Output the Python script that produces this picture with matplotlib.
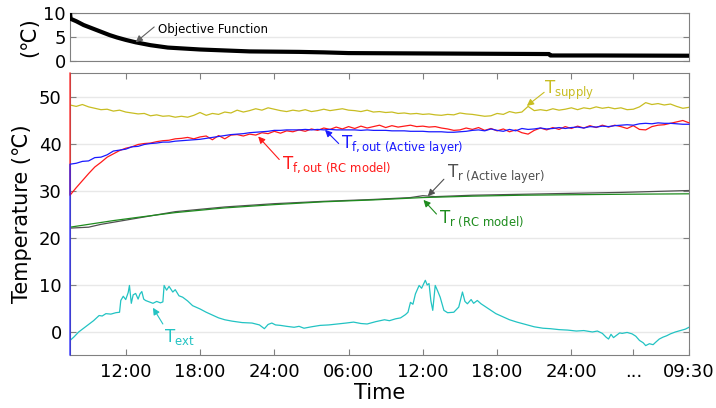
import numpy as np
import matplotlib
matplotlib.use("Agg")
import matplotlib.pyplot as plt

plt.rcParams['font.family'] = ['DejaVu Sans']
plt.rcParams['mathtext.fontset'] = 'dejavusans'

# ---------------- data (time in hours from midnight of day 1) ----------------
obj_t = [7.5, 7.55, 8, 8.6, 9.3, 10, 10.7, 11.3, 12, 12.8, 14, 15.4, 16.7, 18, 20, 22,
         24, 26, 28, 30, 34, 38, 42, 46.2, 46.3, 50, 57.5]
obj_v = [10.0, 8.8, 8.3, 7.5, 6.8, 6.1, 5.4, 4.9, 4.4, 3.9, 3.3, 2.8, 2.6, 2.4, 2.2, 2.0,
         1.95, 1.9, 1.8, 1.65, 1.6, 1.55, 1.5, 1.45, 1.15, 1.15, 1.1]

t_start = 7.5
dt = 0.5

supply = [48.2, 47.9, 48.3, 47.8, 47.5, 47.2, 47.3, 46.9, 47.1, 46.7,   # 7.5 - 12.0
          46.5, 46.3, 46.4, 45.9, 46.1, 45.8, 45.9, 45.6, 45.8, 45.6,   # 12.5 - 17.0
          46.0, 46.6, 46.0, 46.4, 46.2, 46.7, 46.5, 47.1, 46.7, 47.0,   # 17.5 - 22.0
          47.4, 47.1, 47.6, 47.3, 47.0, 46.8, 47.1, 46.9, 47.2, 46.8,   # 22.5 - 27.0
          47.0, 47.3, 47.0, 47.2, 47.4, 47.1, 47.0, 46.8, 47.1, 46.7,   # 27.5 - 32.0
          46.8, 46.6, 46.7, 46.4, 46.5, 46.3, 46.4, 46.2, 46.3, 46.1,   # 32.5 - 37.0
          46.0, 46.2, 46.1, 46.5, 46.3, 46.2, 46.0, 45.8, 45.9, 46.4,   # 37.5 - 42.0
          46.2, 46.8, 46.5, 46.7, 47.9, 47.0, 47.2, 47.0, 47.4, 47.1,   # 42.5 - 47.0
          47.3, 47.6, 47.2, 47.6, 47.4, 47.8, 47.5, 47.7, 47.4, 47.6,   # 47.5 - 52.0
          47.2, 47.3, 47.8, 48.7, 48.3, 48.5, 48.2, 48.4, 47.9, 47.5,   # 52.5 - 57.0
          47.7]                                                         # 57.5

fout_rc = [29.0, 30.6, 32.1, 33.6, 35.0, 36.0, 37.1, 37.8, 38.5, 39.0,
           39.3, 39.8, 40.0, 40.1, 40.4, 40.6, 40.7, 41.0, 41.1, 41.3,
           41.0, 41.4, 41.6, 40.8, 41.7, 41.0, 41.8, 41.9, 41.6, 42.0,
           41.8, 42.3, 42.1, 42.6, 42.2, 42.7, 42.5, 42.9, 42.6, 43.1,
           42.8, 43.3, 43.0, 43.5, 43.1, 43.6, 43.2, 43.7, 43.3, 43.6,
           43.9, 43.4, 43.8, 43.5, 43.7, 43.9, 43.6, 43.7, 43.5, 43.6,
           43.3, 43.1, 42.8, 42.9, 43.3, 43.0, 43.4, 42.8, 43.2, 42.7,
           43.1, 42.5, 42.9, 42.3, 42.0, 42.8, 43.3, 42.9, 43.4, 43.0,
           43.6, 43.2, 43.7, 43.3, 43.8, 43.4, 43.9, 43.5, 43.9, 43.6,
           43.2, 43.8, 43.0, 42.9, 43.6, 43.9, 44.0, 44.3, 44.6, 44.9,
           44.4]
fout_rc_first = 55.0

fout_al = [35.6, 35.8, 36.2, 36.3, 37.0, 37.1, 37.6, 38.4, 38.6, 38.8,
           39.3, 39.4, 39.8, 40.0, 40.1, 40.3, 40.3, 40.5, 40.6, 40.7,
           40.8, 40.9, 41.1, 41.3, 41.5, 41.7, 41.9, 42.0, 42.1, 42.3,
           42.4, 42.5, 42.6, 42.8, 42.8, 42.9, 42.9, 42.9, 43.0, 42.9,
           43.0, 42.9, 43.0, 42.9, 42.9, 42.9, 42.9, 42.8, 42.9, 42.8,
           42.8, 42.8, 42.7, 42.7, 42.7, 42.6, 42.6, 42.6, 42.5, 42.5,
           42.5, 42.4, 42.4, 42.5, 42.6, 42.8, 42.9, 42.7, 43.1, 42.8,
           42.6, 43.0, 42.7, 43.2, 43.0, 43.1, 43.3, 43.1, 43.2, 43.4,
           43.2, 43.4, 43.5, 43.3, 43.6, 43.5, 43.7, 43.6, 43.8, 43.9,
           44.0, 43.9, 44.2, 44.3, 44.2, 44.4, 44.3, 44.3, 44.2, 44.1,
           44.1]
fout_al_first = -5.0

tr_rc_t = [7.5, 9, 11, 13, 16, 20, 24, 28, 32, 36, 40, 44, 48, 52, 57.5]
tr_rc_v = [22.2, 22.8, 23.6, 24.3, 25.3, 26.3, 27.0, 27.6, 28.0, 28.5, 28.8, 29.0, 29.1, 29.2, 29.3]

tr_al_t = [7.5, 9, 10, 12, 14, 16, 20, 24, 28, 32, 35, 36, 37, 40, 44, 48, 52, 57.5]
tr_al_v = [22.0, 22.2, 22.8, 23.7, 24.6, 25.5, 26.5, 27.2, 27.7, 28.1, 28.5, 28.9, 28.7,
           29.0, 29.2, 29.4, 29.6, 30.0]

text_t = [7.5, 7.8, 8.2, 8.6, 9.0, 9.4, 9.85, 10.1, 10.4, 10.8, 11.2, 11.5, 11.6, 11.8, 12.0,
          12.2, 12.3, 12.45, 12.6, 12.8, 13.0, 13.15, 13.3, 13.45, 13.6, 13.9, 14.2, 14.5,
          14.8, 15.0, 15.1, 15.3, 15.5, 15.8, 16.0, 16.3, 16.6, 17.0, 17.4, 18.0, 18.5, 19.0,
          19.5, 20.0, 20.6, 21.4, 22.2, 22.8, 23.2, 23.5, 23.8, 24.1, 24.5, 25.0, 25.6, 26.0,
          26.4, 27.0, 27.7, 28.4, 29.1, 29.8, 30.4, 31.0, 31.5, 32.2, 32.9, 33.3, 33.8, 34.2,
          34.6, 34.8, 35.0, 35.2, 35.4, 35.7, 35.9, 36.2, 36.35, 36.5, 36.65, 36.8, 37.0, 37.2,
          37.4, 37.7, 38.0, 38.5, 38.9, 39.2, 39.4, 39.6, 39.9, 40.1, 40.4, 40.7, 41.1, 41.5,
          41.9, 42.5, 43.0, 43.6, 44.3, 45.0, 45.7, 46.3, 47.0, 47.7, 48.4, 49.0, 49.7, 50.1,
          50.5, 50.8, 51.0, 51.2, 51.4, 51.6, 51.9, 52.1, 52.5, 52.9, 53.2, 53.5, 53.8, 54.0,
          54.3, 54.6, 54.8, 55.1, 55.4, 55.7, 56.0, 56.4, 56.8, 57.2, 57.5]
text_v = [-1.9, -1.2, -0.1, 0.7, 1.5, 2.3, 3.4, 3.3, 3.8, 3.7, 4.0, 4.1, 6.6, 7.5, 6.8,
          8.3, 9.8, 6.0, 7.8, 8.1, 6.9, 8.0, 8.5, 6.9, 6.6, 6.3, 6.0, 6.4,
          6.1, 6.3, 9.8, 8.8, 9.6, 8.4, 8.9, 7.6, 7.3, 6.5, 5.5, 4.8, 4.1, 3.5,
          2.9, 2.5, 2.2, 1.9, 1.8, 1.4, 0.6, 1.5, 1.8, 1.4, 1.3, 1.1, 0.9, 1.1,
          0.7, 1.0, 1.3, 1.4, 1.6, 1.8, 2.0, 1.7, 1.6, 2.1, 2.5, 2.3, 2.7, 2.9,
          3.6, 4.1, 6.2, 5.8, 8.0, 9.8, 9.2, 10.9, 9.9, 10.2, 6.5, 4.5, 9.8, 8.6,
          7.3, 4.5, 4.0, 4.1, 5.2, 8.4, 6.4, 5.9, 6.8, 6.0, 6.6, 5.9, 5.2, 4.5,
          3.8, 3.1, 2.5, 2.0, 1.5, 1.0, 0.7, 0.6, 0.4, 0.3, 0.1, 0.2, -0.1, 0.1,
          -0.4, -1.2, -1.6, -0.6, -1.3, -0.9, -0.3, -0.4, -0.2, -0.5, -1.0, -1.9, -2.4, -3.0,
          -2.6, -2.8, -2.3, -1.6, -1.2, -0.9, -0.5, -0.1, 0.2, 0.5, 0.9]

tick_pos = [12, 18, 24, 30, 36, 42, 48, 53, 57.5]
tick_lab = ['12:00', '18:00', '24:00', '06:00', '12:00', '18:00', '24:00', '...', '09:30']

c_supply = '#c8bd22'
c_rc = '#ff1a1a'
c_al = '#1a1aff'
c_tr_al = '#505050'
c_tr_rc = '#1e8c1e'
c_ext = '#22c3c3'
c_spine = '#808080'

# time grids for the half-hour series
t_half = t_start + dt * np.arange(len(supply))
t_rc = np.concatenate([[t_start], t_start + dt * np.arange(len(fout_rc))])
t_al = np.concatenate([[t_start], t_start + dt * np.arange(len(fout_al))])

fig = plt.figure(figsize=(7.16, 4.08), dpi=100)
ax0 = fig.add_axes([0.0978, 0.8505, 0.8645, 0.1175])
ax = fig.add_axes([0.0978, 0.1299, 0.8645, 0.6911])

# ---------------- top panel: objective function ----------------
ax0.plot(obj_t, obj_v, color='black', lw=3, zorder=3)
ax0.set_xlim(7.5, 57.5)
ax0.set_ylim(0, 10)
ax0.set_yticks([0, 5, 10])
ax0.set_xticks([])
ax0.grid(axis='y', color='#e8e8e8', lw=1)
ax0.set_axisbelow(True)
ax0.tick_params(axis='y', direction='in', right=True, length=4, color=c_spine,
                labelsize=13, pad=3)
ax0.set_ylabel('(℃)', fontsize=15, labelpad=3)
for s in ax0.spines.values():
    s.set_color(c_spine)
ax0.annotate('', xy=(12.8, 3.9), xytext=(14.3, 7.1),
             arrowprops=dict(arrowstyle='-|>', color='#606060', lw=0.8, mutation_scale=10,
                             shrinkA=0, shrinkB=0))
ax0.text(14.6, 6.5, 'Objective Function', fontsize=8.5, ha='left', va='center')

# ---------------- main panel ----------------
ax.plot(t_half, supply, color=c_supply, lw=0.9)
ax.plot(t_rc, [fout_rc_first] + fout_rc, color=c_rc, lw=0.9, zorder=3, clip_on=False)
ax.plot(t_al, [fout_al_first] + fout_al, color=c_al, lw=0.9, zorder=3, clip_on=False)
ax.plot(tr_al_t, tr_al_v, color=c_tr_al, lw=0.9)
ax.plot(tr_rc_t, tr_rc_v, color=c_tr_rc, lw=0.9)
ax.plot(text_t, text_v, color=c_ext, lw=0.9)

ax.set_xlim(7.5, 57.5)
ax.set_ylim(-5, 55)
ax.set_yticks([0, 10, 20, 30, 40, 50])
ax.set_xticks(tick_pos)
ax.set_xticklabels(tick_lab)
ax.grid(axis='y', color='#e8e8e8', lw=1)
ax.set_axisbelow(True)
ax.tick_params(direction='in', top=True, right=True, length=4, color=c_spine,
               labelsize=13)
ax.tick_params(axis='x', pad=6)
ax.tick_params(axis='y', pad=6)
for s in ax.spines.values():
    s.set_color(c_spine)
ax.set_ylabel('Temperature (℃)', fontsize=15, labelpad=5)
ax.set_xlabel('Time', fontsize=15, labelpad=1)

arrow = dict(arrowstyle='-|>', lw=0.8, mutation_scale=10, shrinkA=0, shrinkB=0)

ax.annotate('', xy=(44.4, 48.0), xytext=(45.8, 50.9), arrowprops=dict(arrow, color=c_supply))
ax.text(45.75, 51.4, r'T$_{\mathrm{supply}}$', color=c_supply, fontsize=12, va='center')

ax.annotate('', xy=(28.1, 42.9), xytext=(29.2, 40.0), arrowprops=dict(arrow, color=c_al))
ax.text(29.4, 39.7, r'T$_{\mathrm{f,out\ (Active\ layer)}}$', color=c_al, fontsize=12,
        va='center')

ax.annotate('', xy=(22.7, 41.5), xytext=(24.4, 36.6), arrowprops=dict(arrow, color=c_rc))
ax.text(24.66, 35.4, r'T$_{\mathrm{f,out\ (RC\ model)}}$', color=c_rc, fontsize=12,
        va='center')

ax.annotate('', xy=(36.4, 28.8), xytext=(37.7, 32.4), arrowprops=dict(arrow, color=c_tr_al))
ax.text(37.93, 33.5, r'T$_{\mathrm{r\ (Active\ layer)}}$', color=c_tr_al, fontsize=12,
        va='center')

ax.annotate('', xy=(36.05, 28.0), xytext=(37.1, 25.0), arrowprops=dict(arrow, color=c_tr_rc))
ax.text(37.3, 24.0, r'T$_{\mathrm{r\ (RC\ model)}}$', color=c_tr_rc, fontsize=12,
        va='center')

ax.annotate('', xy=(14.2, 5.05), xytext=(15.0, 1.6), arrowprops=dict(arrow, color=c_ext))
ax.text(15.1, -1.1, r'T$_{\mathrm{ext}}$', color=c_ext, fontsize=12, va='center')

fig.savefig('out.png', dpi=100)
